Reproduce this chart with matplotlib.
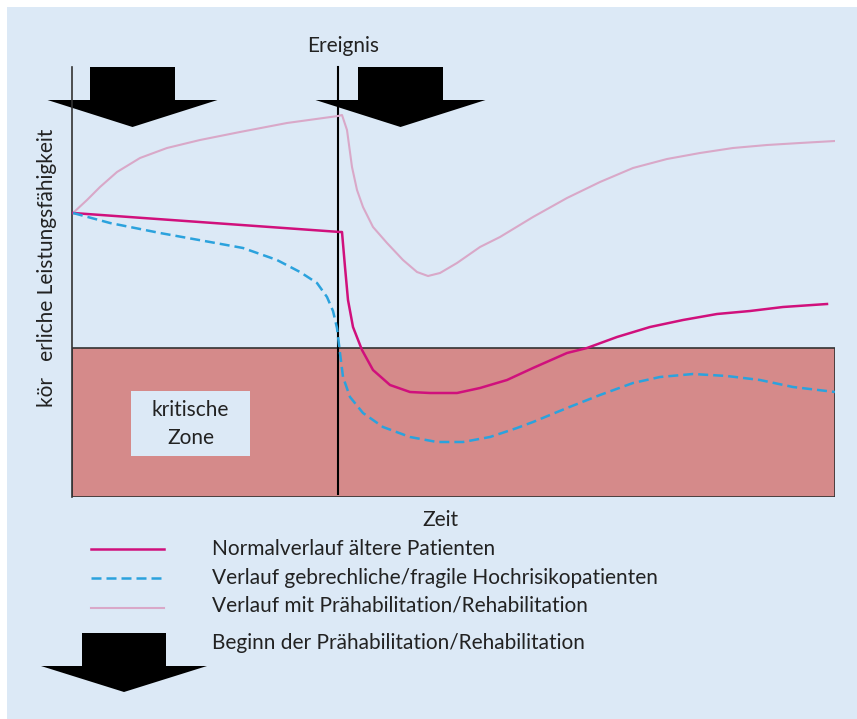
import matplotlib
matplotlib.use("Agg")
import matplotlib.pyplot as plt
from matplotlib.patches import Rectangle, Polygon

# curves, arbitrary units: time 0..763, performance 0..432
event_t = 266
critical_top = 149

rehab_t = [1, 15, 28, 45, 68, 95, 128, 168, 215, 266, 270, 275, 280, 285, 291, 301, 315, 331,
           345, 356, 368, 385, 408, 428, 461, 495, 528, 561, 595, 628, 661, 695, 728, 763]
rehab_v = [284, 297, 310, 325, 339, 349, 357, 365, 374, 381, 382, 367, 330, 307, 290, 270, 254,
           237, 225, 221, 224, 234, 250, 260, 280, 299, 315, 329, 338, 344, 349, 352, 354, 356]

normal_t = [1, 268, 270, 273, 276, 281, 290, 301, 318, 338, 358, 385, 408, 435, 461, 495, 515,
            545, 578, 611, 645, 678, 711, 755]
normal_v = [284, 265, 265, 230, 197, 170, 147, 127, 112, 105, 104, 104, 109, 117, 129, 144, 149,
            160, 170, 177, 183, 186, 190, 193]

frail_t = [1, 38, 88, 138, 171, 205, 228, 245, 255, 261, 265, 268, 271, 278, 291, 311, 338, 365,
           391, 418, 445, 461, 495, 528, 561, 588, 621, 655, 688, 721, 763]
frail_v = [284, 274, 264, 255, 249, 237, 225, 214, 200, 186, 169, 144, 120, 100, 84, 70, 60, 55,
           55, 60, 69, 75, 89, 102, 114, 120, 123, 121, 117, 110, 105]

legend_labels = ["Normalverlauf ältere Patienten",
                 "Verlauf gebrechliche/fragile Hochrisikopatienten",
                 "Verlauf mit Prähabilitation/Rehabilitation"]
arrow_label = "Beginn der Prähabilitation/Rehabilitation"

c_normal = "#d0107c"
c_frail = "#2ba2dd"
c_rehab = "#d9a8c8"
c_bg = "#dce9f6"
c_zone = "#d58a8a"
txt = "#222222"

plt.rcParams['font.family'] = ['Lato', 'DejaVu Sans']

W, H = 857, 719
fig = plt.figure(figsize=(W / 100, H / 100), dpi=100)
fig.patch.set_facecolor("white")

# overlay in pixel units for background, arrows, labels and legend
deco = fig.add_axes([0, 0, 1, 1])
deco.set_xlim(0, W)
deco.set_ylim(H, 0)
deco.axis("off")
deco.add_patch(Rectangle((7, 7), W - 7, H - 7, facecolor=c_bg, edgecolor="none"))


def down_arrow(ax, cx, top, neck, tip, shaft_half, head_half):
    pts = [(cx - shaft_half, top), (cx + shaft_half, top), (cx + shaft_half, neck),
           (cx + head_half, neck), (cx, tip), (cx - head_half, neck), (cx - shaft_half, neck)]
    ax.add_patch(Polygon(pts, closed=True, facecolor="black", edgecolor="none", zorder=3))


down_arrow(deco, 132.5, 67, 100, 127, 42.5, 85)
down_arrow(deco, 400.5, 67, 100, 127, 42.5, 85)
down_arrow(deco, 124, 633, 666, 692, 42, 83)

deco.text(343, 46, "Ereignis", ha="center", va="center", fontsize=15, color=txt)
deco.text(440, 520, "Zeit", ha="center", va="center", fontsize=15, color=txt)
deco.text(47, 268, "kör   erliche Leistungsfähigkeit", rotation=90, ha="center",
          va="center", fontsize=15, color=txt)

# legend
deco.plot([91, 164], [549, 549], color=c_normal, lw=1.8)
deco.plot([91, 164], [578, 578], color=c_frail, lw=1.8, dashes=(4, 2))
deco.plot([91, 164], [608, 608], color=c_rehab, lw=1.5)
for yy, lab in zip([549, 578, 606], legend_labels):
    deco.text(212, yy, lab, ha="left", va="center", fontsize=15, color=txt)
deco.text(212, 643, arrow_label, ha="left", va="center", fontsize=15, color=txt)

# main chart in data units
ax = fig.add_axes([72 / W, (H - 497) / H, 763 / W, 432 / H])
ax.set_xlim(0, 763)
ax.set_ylim(0, 432)
ax.axis("off")

ax.add_patch(Rectangle((0, 0), 763, critical_top, facecolor=c_zone, edgecolor="#333333",
                       lw=1.2, zorder=1))
ax.add_patch(Rectangle((59, 41), 119, 65, facecolor=c_bg, edgecolor="none", zorder=2))
ax.text(118.5, 87, "kritische", ha="center", va="center", fontsize=15, color=txt, zorder=3)
ax.text(118.5, 59, "Zone", ha="center", va="center", fontsize=15, color=txt, zorder=3)

ax.plot([0, 0], [0, 430], color="#333333", lw=1.2, zorder=2, clip_on=False)
ax.plot([event_t, event_t], [3, 430], color="black", lw=1.5, zorder=4, clip_on=False)

ax.plot(rehab_t, rehab_v, color=c_rehab, lw=1.5, zorder=5, solid_joinstyle="round")
ax.plot(normal_t, normal_v, color=c_normal, lw=1.8, zorder=6, solid_joinstyle="round")
ax.plot(frail_t, frail_v, color=c_frail, lw=1.8, dashes=(4, 2), zorder=6)

fig.savefig("out.png", dpi=100, facecolor=fig.get_facecolor())
